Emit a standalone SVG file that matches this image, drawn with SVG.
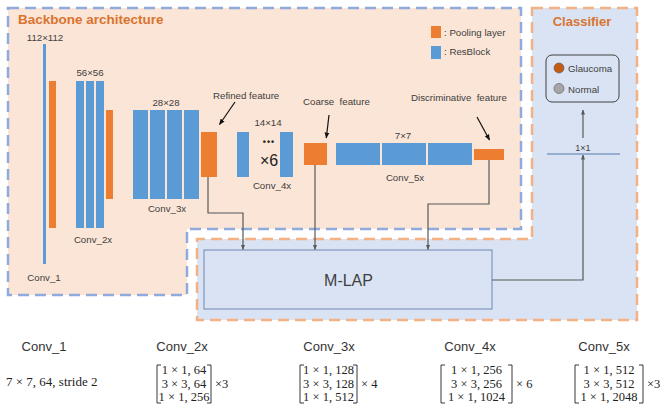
<svg xmlns="http://www.w3.org/2000/svg" width="660" height="407" viewBox="0 0 660 407">
<defs>
<style>
.lbl{font-family:"Liberation Sans",Arial,sans-serif;font-size:9.7px;fill:#404040}
.ttl{font-family:"Liberation Sans",Arial,sans-serif;font-weight:bold;font-size:13.5px;fill:#d9742f}
.hdr{font-family:"Liberation Sans",Arial,sans-serif;font-size:13px;fill:#333}
.mth{font-family:"Liberation Serif","Times New Roman",serif;font-size:12.5px;fill:#222}
.blue{fill:#5b9bd5}
.org{fill:#ed7d31}
.conn{fill:none;stroke:#595959;stroke-width:1.2}
.ptr{fill:none;stroke:#111;stroke-width:1.2}
.brk{fill:none;stroke:#222;stroke-width:0.9}
</style>
<marker id="ah" viewBox="0 0 10 10" refX="9" refY="5" markerWidth="5" markerHeight="5" orient="auto-start-reverse" markerUnits="userSpaceOnUse">
<path d="M0,1 L10,5 L0,9 z" fill="#595959"/>
</marker>
<marker id="ahk" viewBox="0 0 10 10" refX="9" refY="5" markerWidth="6" markerHeight="6" orient="auto" markerUnits="userSpaceOnUse">
<path d="M0,1 L10,5 L0,9 z" fill="#111"/>
</marker>
</defs>
<rect width="660" height="407" fill="#fff"/>

<g id="backbone-region">
<path d="M8,8 H521 V229 H187 V295 H8 Z" fill="#fbe5d6" stroke="#8faadc" stroke-width="2.5" stroke-dasharray="11 6"/>
<text class="ttl" x="18" y="24">Backbone architecture</text>
</g>

<g id="classifier-region">
<path d="M532,8 H637 V320 H197 V239 H532 Z" fill="#dae3f3" stroke="#f4b183" stroke-width="2.5" stroke-dasharray="11 6"/>
<text class="ttl" x="582" y="26" text-anchor="middle" style="font-size:13px">Classifier</text>
</g>

<g id="legend">
<rect class="org" x="431" y="26" width="10" height="12"/>
<text class="lbl" x="444" y="36">: Pooling layer</text>
<rect class="blue" x="431" y="46" width="10" height="13"/>
<text class="lbl" x="444" y="55">: ResBlock</text>
</g>

<g id="conv1">
<text class="lbl" x="45" y="40.5" text-anchor="middle">112×112</text>
<rect class="blue" x="43" y="44" width="3" height="220"/>
<rect class="org" x="49" y="81" width="7" height="147"/>
<text class="lbl" x="44" y="280.5" text-anchor="middle">Conv_1</text>
</g>

<g id="conv2x">
<text class="lbl" x="90" y="76" text-anchor="middle">56×56</text>
<rect class="blue" x="76" y="81" width="8" height="147"/>
<rect class="blue" x="86" y="81" width="8" height="147"/>
<rect class="blue" x="96" y="81" width="8" height="147"/>
<rect class="org" x="106" y="110" width="7" height="89"/>
<text class="lbl" x="93" y="242.5" text-anchor="middle">Conv_2x</text>
</g>

<g id="conv3x">
<text class="lbl" x="166" y="106" text-anchor="middle">28×28</text>
<rect class="blue" x="133" y="110" width="15" height="89"/>
<rect class="blue" x="150" y="110" width="15" height="89"/>
<rect class="blue" x="167" y="110" width="15" height="89"/>
<rect class="blue" x="184" y="110" width="15" height="89"/>
<rect class="org" x="201" y="132" width="16" height="45"/>
<text class="lbl" x="167" y="212" text-anchor="middle">Conv_3x</text>
<text class="lbl" x="213" y="98.5">Refined feature</text>
<path class="ptr" d="M235,102 L219.5,124.5" marker-end="url(#ahk)"/>
</g>

<g id="conv4x">
<text class="lbl" x="268" y="126" text-anchor="middle">14×14</text>
<rect class="blue" x="237" y="132" width="12" height="45"/>
<rect class="blue" x="280" y="132" width="13" height="45"/>
<text x="269" y="145" text-anchor="middle" style="font-family:'Liberation Sans',Arial,sans-serif;font-size:9px;font-weight:bold;fill:#222;letter-spacing:1px">•••</text>
<text x="269" y="165.5" text-anchor="middle" style="font-family:'Liberation Sans',Arial,sans-serif;font-size:16px;fill:#222">×6</text>
<text class="lbl" x="272" y="189" text-anchor="middle">Conv_4x</text>
<rect class="org" x="304" y="143" width="23" height="22"/>
<text class="lbl" x="303" y="105" xml:space="preserve">Coarse  feature</text>
<path class="ptr" d="M329,115 L326.3,138" marker-end="url(#ahk)"/>
</g>

<g id="conv5x">
<text class="lbl" x="403" y="139" text-anchor="middle">7×7</text>
<rect class="blue" x="336" y="143" width="44" height="22"/>
<rect class="blue" x="382" y="143" width="44" height="22"/>
<rect class="blue" x="428" y="143" width="44" height="22"/>
<rect class="org" x="474" y="149" width="30" height="11"/>
<text class="lbl" x="405" y="181" text-anchor="middle">Conv_5x</text>
<text class="lbl" x="411" y="100.5" xml:space="preserve">Discriminative  feature</text>
<path class="ptr" d="M477,117 L489.5,140" marker-end="url(#ahk)"/>
</g>

<g id="mlap">
<rect x="204" y="250" width="288" height="59" fill="#dae3f3" stroke="#6f88b5" stroke-width="1"/>
<text x="348.5" y="286" text-anchor="middle" style="font-family:'Liberation Sans',Arial,sans-serif;font-size:16px;fill:#404040">M-LAP</text>
</g>

<g id="fc">
<line x1="547" y1="154" x2="620" y2="154" stroke="#7f9cc4" stroke-width="1.5"/>
<text class="lbl" x="583" y="151" text-anchor="middle" style="font-size:9px">1×1</text>
</g>

<g id="output">
<rect x="546" y="55" width="73" height="47" rx="6" fill="#dae3f3" stroke="#404040" stroke-width="1"/>
<circle cx="559" cy="68" r="5" fill="#c55a11" stroke="#555" stroke-width="0.6"/>
<text class="lbl" x="568" y="72">Glaucoma</text>
<circle cx="559" cy="88.5" r="5" fill="#a6a6a6" stroke="#555" stroke-width="0.6"/>
<text class="lbl" x="568" y="93">Normal</text>
</g>

<g id="connectors">
<path class="conn" d="M208,177 V213 H243 V249.5" marker-end="url(#ah)"/>
<path class="conn" d="M315,165 V249.5" marker-end="url(#ah)"/>
<path class="conn" d="M489,160 V204 H428 V249.5" marker-end="url(#ah)"/>
<path class="conn" d="M492,280 H583 V155" marker-end="url(#ah)"/>
<path class="conn" d="M583,138 V110" marker-end="url(#ah)"/>
</g>

<g id="table">
<text class="hdr" x="44" y="351" text-anchor="middle">Conv_1</text>
<text class="hdr" x="182" y="351" text-anchor="middle">Conv_2x</text>
<text class="hdr" x="329" y="351" text-anchor="middle">Conv_3x</text>
<text class="hdr" x="470" y="351" text-anchor="middle">Conv_4x</text>
<text class="hdr" x="604" y="351" text-anchor="middle">Conv_5x</text>

<text class="mth" x="6" y="386" style="font-size:13px">7 × 7, 64, stride 2</text>

<path class="brk" d="M161,365 H157 V403 H161 M207,365 H211 V403 H207"/>
<text class="mth" x="184" y="374" text-anchor="middle">1 × 1, 64</text>
<text class="mth" x="184" y="387.5" text-anchor="middle">3 × 3, 64</text>
<text class="mth" x="184" y="401" text-anchor="middle">1 × 1, 256</text>
<text class="mth" x="215" y="388">×3</text>

<path class="brk" d="M304,365 H300 V403 H304 M353,365 H357 V403 H353"/>
<text class="mth" x="328.5" y="374" text-anchor="middle">1 × 1, 128</text>
<text class="mth" x="328.5" y="387.5" text-anchor="middle">3 × 3, 128</text>
<text class="mth" x="328.5" y="401" text-anchor="middle">1 × 1, 512</text>
<text class="mth" x="361" y="388">× 4</text>

<path class="brk" d="M445,365 H441 V403 H445 M508,365 H512 V403 H508"/>
<text class="mth" x="476.5" y="374" text-anchor="middle">1 × 1, 256</text>
<text class="mth" x="476.5" y="387.5" text-anchor="middle">3 × 3, 256</text>
<text class="mth" x="476.5" y="401" text-anchor="middle">1 × 1, 1024</text>
<text class="mth" x="516" y="388">× 6</text>

<path class="brk" d="M579,365 H575 V403 H579 M639,365 H643 V403 H639"/>
<text class="mth" x="609" y="374" text-anchor="middle">1 × 1, 512</text>
<text class="mth" x="609" y="387.5" text-anchor="middle">3 × 3, 512</text>
<text class="mth" x="609" y="401" text-anchor="middle">1 × 1, 2048</text>
<text class="mth" x="647" y="388">×3</text>
</g>
</svg>
